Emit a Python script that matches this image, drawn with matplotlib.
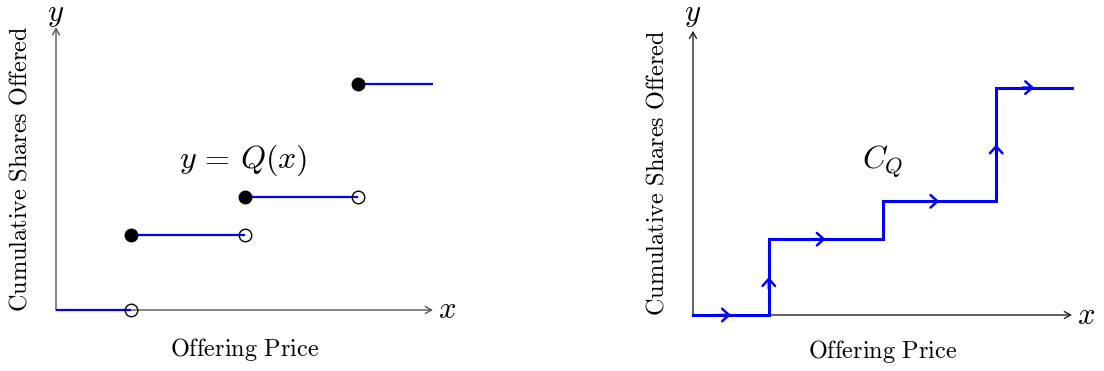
import matplotlib
matplotlib.use('Agg')
import matplotlib.pyplot as plt

plt.rcParams['mathtext.fontset'] = 'cm'

# step function Q: jumps at these prices, constant levels in between
breaks = [2, 5, 8]
levels = [0, 2, 3, 6]
x_end = 10
y_top = 7.5

W, H = 1104, 371
fig = plt.figure(figsize=(W / 100, H / 100), dpi=100)


def make_axes(x0, y0, scale):
    # x0, y0: pixel position of the origin, scale: pixels per unit
    ax = fig.add_axes([x0 / W, (H - y0) / H, x_end * scale / W, y_top * scale / H])
    ax.set_xlim(0, x_end)
    ax.set_ylim(0, y_top)
    ax.axis('off')
    return ax


def draw_frame(ax, color, ylab_x, xlab_y, y_lift):
    kw = dict(arrowstyle='->,head_length=0.45,head_width=0.25', lw=1.0,
              color=color, shrinkA=0, shrinkB=0, mutation_scale=10)
    ax.annotate('', xy=(x_end, 0), xytext=(0, 0), arrowprops=kw,
                annotation_clip=False, zorder=1)
    ax.annotate('', xy=(0, y_top), xytext=(0, 0), arrowprops=kw,
                annotation_clip=False, zorder=1)
    ax.text(x_end + 0.13, 0, r'$x$', fontsize=22, va='center', ha='left')
    ax.text(0, y_top + y_lift, r'$y$', fontsize=22, va='center', ha='center')
    ax.text(ylab_x, y_top / 2, r'$\mathrm{Cumulative\ Shares\ Offered}$',
            rotation=90, fontsize=17.5, va='center', ha='center')
    ax.text(x_end / 2, xlab_y, r'$\mathrm{Offering\ Price}$',
            fontsize=17.5, va='center', ha='center')


# left: the function graph with filled / open end points
ax1 = make_axes(56, 310, 37.7)
draw_frame(ax1, '#555555', -0.98, -1.05, 0.33)
starts = [0] + breaks
ends = breaks + [x_end]
for i, (a, b, lv) in enumerate(zip(starts, ends, levels)):
    ax1.plot([a, b], [lv, lv], color='blue', lw=1.6, solid_capstyle='butt',
             zorder=2, clip_on=False)
    if i > 0:
        ax1.plot(a, lv, 'o', color='black', ms=9, zorder=4, clip_on=False)
    if i < len(breaks):
        ax1.plot(b, lv, 'o', mfc='none', mec='black', mew=1.0, ms=9,
                 zorder=3, clip_on=False)
ax1.text(4.96, 3.98, r'$y\,=\,Q(x)$', fontsize=23, ha='center', va='center')

# right: the oriented staircase curve C_Q
ax2 = make_axes(693, 315, 37.9)
draw_frame(ax2, '#222222', -0.95, -0.95, 0.42)
px, py = [0], [levels[0]]
for xb, lv in zip(breaks, levels[1:]):
    px += [xb, xb]
    py += [py[-1], lv]
px.append(x_end)
py.append(levels[-1])
ax2.plot(px, py, color='blue', lw=2.2, solid_joinstyle='miter',
         zorder=2, clip_on=False)

arrow_kw = dict(arrowstyle='->,head_length=0.5,head_width=0.45', lw=1.8,
                color='blue', shrinkA=0, shrinkB=0, mutation_scale=10)
# arrow heads at the middle of each piece (the short jump at x=5 has none)
for (xa, ya), (xb, yb) in zip(zip(px[:-1], py[:-1]), zip(px[1:], py[1:])):
    if xa == xb and yb - ya < 2:
        continue
    mx, my = (xa + xb) / 2, (ya + yb) / 2
    dx, dy = (0.3, 0) if ya == yb else (0, 0.3)
    ax2.annotate('', xy=(mx, my), xytext=(mx - dx, my - dy),
                 arrowprops=arrow_kw, annotation_clip=False)
ax2.text(5.0, 4.05, r'$C_Q$', fontsize=23, ha='center', va='center')

fig.savefig('out.png', dpi=100)
